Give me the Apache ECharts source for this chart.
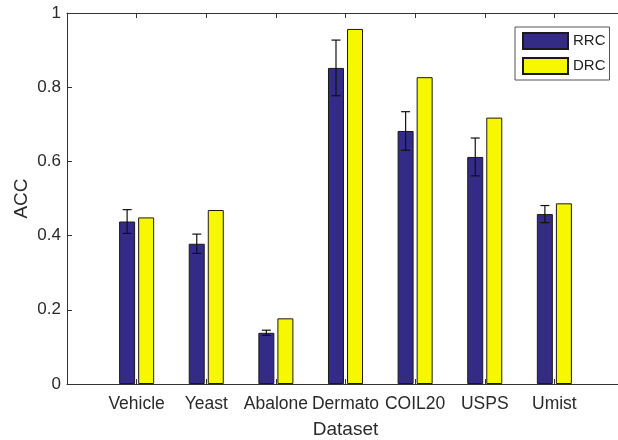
<!DOCTYPE html>
<html>
<head>
<meta charset="utf-8">
<script src="https://cdn.jsdelivr.net/npm/echarts@6/dist/echarts.min.js"></script>
<style>
html,body{margin:0;padding:0;background:#fff;}
#chart{width:618px;height:440px;}
</style>
</head>
<body>
<div id="chart"></div>
<script>
var categories = ['Vehicle', 'Yeast', 'Abalone', 'Dermato', 'COIL20', 'USPS', 'Umist'];
var rrcValues = [0.438, 0.378, 0.138, 0.852, 0.682, 0.612, 0.458];
var rrcErrors = [0.032, 0.026, 0.007, 0.075, 0.052, 0.051, 0.023];
var drcValues = [0.449, 0.469, 0.177, 0.957, 0.827, 0.718, 0.487];
var yTicks = [0, 0.2, 0.4, 0.6, 0.8, 1];

var paddedCats = [''].concat(categories).concat(['']);
var rrcData = [null].concat(rrcValues).concat([null]);
var drcData = [null].concat(drcValues).concat([null]);
var errData = rrcValues.map(function (v, i) {
  return [i + 1, v - rrcErrors[i], v + rrcErrors[i]];
});

var FONT = "'Liberation Sans', Arial, sans-serif";
var AXIS_COLOR = '#333';
var BAR_OFFSET = -9.5;

var chart = echarts.init(document.getElementById('chart'));
chart.setOption({
  animation: false,
  backgroundColor: '#fff',
  grid: { left: 67, top: 13, width: 557, height: 371, containLabel: false, outerBoundsMode: 'none' },
  legend: {
    data: ['RRC', 'DRC'],
    orient: 'vertical',
    left: 515,
    top: 27,
    itemWidth: 45,
    itemHeight: 16,
    itemGap: 7,
    padding: [5, 4, 5, 7],
    borderColor: '#555',
    borderWidth: 1,
    icon: 'rect',
    textStyle: { fontFamily: FONT, fontSize: 15, color: '#222', padding: [0, 0, 0, 0] }
  },
  xAxis: [{
    type: 'category',
    data: paddedCats,
    boundaryGap: false,
    position: 'bottom',
    axisLine: { lineStyle: { color: AXIS_COLOR, width: 1 } },
    axisTick: { inside: true, length: 5, lineStyle: { color: AXIS_COLOR } },
    axisLabel: { fontFamily: FONT, fontSize: 17.5, color: '#2a2a2a', margin: 11, interval: 0 },
    splitLine: { show: false },
    name: 'Dataset',
    nameLocation: 'middle',
    nameGap: 36,
    nameMoveOverlap: false,
    nameTextStyle: { fontFamily: FONT, fontSize: 19, color: '#2a2a2a' }
  }, {
    type: 'category',
    data: paddedCats,
    boundaryGap: false,
    position: 'top',
    axisLine: { lineStyle: { color: AXIS_COLOR, width: 1 } },
    axisTick: { inside: true, length: 5, lineStyle: { color: AXIS_COLOR } },
    axisLabel: { show: false },
    splitLine: { show: false }
  }],
  yAxis: {
    type: 'value',
    min: 0,
    max: 1,
    interval: 0.2,
    axisLine: { show: true, lineStyle: { color: AXIS_COLOR, width: 1 } },
    axisTick: { show: true, inside: true, length: 5, lineStyle: { color: AXIS_COLOR } },
    axisLabel: {
      fontFamily: FONT, fontSize: 17, color: '#2a2a2a', margin: 6,
      formatter: function (v) {
        var idx = yTicks.indexOf(Math.round(v * 10) / 10);
        return idx >= 0 ? String(yTicks[idx]) : '';
      }
    },
    splitLine: { show: false },
    name: 'ACC',
    nameLocation: 'middle',
    nameGap: 36,
    nameMoveOverlap: false,
    nameTextStyle: { fontFamily: FONT, fontSize: 19, color: '#2a2a2a' }
  },
  series: [{
    name: 'RRC',
    type: 'bar',
    data: rrcData,
    barWidth: 16,
    barGap: '19%',
    itemStyle: { color: '#332b85', borderColor: '#1a1a1a', borderWidth: 1 }
  }, {
    name: 'DRC',
    type: 'bar',
    data: drcData,
    barWidth: 16,
    barGap: '19%',
    itemStyle: { color: '#f7f700', borderColor: '#1a1a1a', borderWidth: 1 }
  }, {
    name: 'RRC error',
    type: 'custom',
    data: errData,
    z: 10,
    renderItem: function (params, api) {
      var lo = api.coord([api.value(0), api.value(1)]);
      var hi = api.coord([api.value(0), api.value(2)]);
      var x = lo[0] + BAR_OFFSET;
      var cap = 4.5;
      var style = { stroke: '#111', lineWidth: 1.2, fill: null };
      return {
        type: 'group',
        children: [
          { type: 'line', shape: { x1: x, y1: lo[1], x2: x, y2: hi[1] }, style: style },
          { type: 'line', shape: { x1: x - cap, y1: lo[1], x2: x + cap, y2: lo[1] }, style: style },
          { type: 'line', shape: { x1: x - cap, y1: hi[1], x2: x + cap, y2: hi[1] }, style: style }
        ]
      };
    }
  }]
});
</script>
</body>
</html>
